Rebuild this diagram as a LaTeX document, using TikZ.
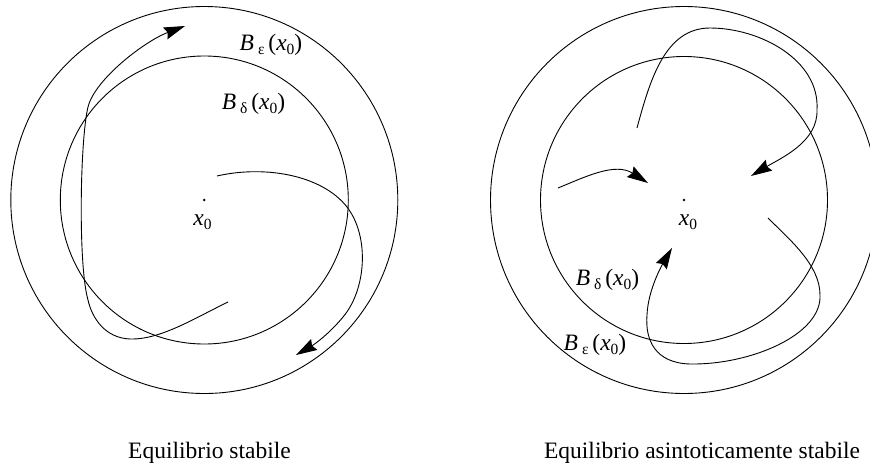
\documentclass[tikz,border=0pt]{standalone}
\usepackage{fontspec}
\setmainfont{Liberation Serif}
\usetikzlibrary{arrows.meta}
\newcommand{\lowsub}[1]{\raisebox{-0.45ex}{\fontsize{15.5}{15.5}\selectfont #1}}
\newcommand{\ballab}[1]{\textit{B}\,\lowsub{#1}\,(\textit{x}\lowsub{0})}
\tikzset{
  ring/.style={line width=0.9pt},
  traj/.style={line width=0.9pt, -{Stealth[length=21pt,width=12.5pt,inset=2.5pt]}},
  lab/.style={font=\fontsize{23.5}{26}\selectfont, inner sep=0pt, anchor=base},
  captext/.style={font=\fontsize{23.5}{26}\selectfont, inner sep=0pt, anchor=base}
}
\begin{document}
\begin{tikzpicture}[x=1pt,y=-1pt]
\useasboundingbox (0,0) rectangle (870,466);
\clip (0,0) rectangle (870,466);
% ---------------- left diagram ----------------
\coordinate (cL) at (204.3,200);
\draw[ring] (cL) circle[radius=193.5];
\draw[ring] (cL) circle[radius=144];
\fill (cL) circle[radius=1.4];
\node[lab] (xL) at (202.5,225) {\textit{x}\lowsub{0}};
\node[lab] (beL) at (271,50) {\ballab{ε}};
\node[lab] (bdL) at (253.5,109) {\ballab{δ}};
% trajectory from inside, leaving to the lower right
\draw[traj] (217,176) .. controls (265,165) and (322,175) .. (347,207)
  .. controls (370,237) and (366,290) .. (343,317)
  .. controls (330,333) and (315,344) .. (296,355);
% trajectory wrapping round the left side
\draw[traj] (228,302) .. controls (195,318) and (160,340) .. (130,339)
  .. controls (105,338) and (92,318) .. (88,300)
  .. controls (78,265) and (80,140) .. (88,107)
  .. controls (95,79) and (145,41) .. (185,26);
\node[captext] (capL) at (209.5,458) {Equilibrio stabile};
% ---------------- right diagram ----------------
\coordinate (cR) at (684,200);
\draw[ring] (cR) circle[radius=193.5];
\draw[ring] (cR) circle[radius=143.5];
\fill (cR) circle[radius=1.4];
\node[lab] (xR) at (688,225) {\textit{x}\lowsub{0}};
\node[lab] (bdR) at (607.5,285) {\ballab{δ}};
\node[lab] (beR) at (595,350) {\ballab{ε}};
\draw[traj] (558,188) .. controls (585,177) and (615,162) .. (648,183);
\draw[traj] (637,128) .. controls (650,80) and (665,28) .. (710,28)
  .. controls (760,28) and (820,60) .. (817,110)
  .. controls (818,142) and (781,158) .. (751,176);
\draw[traj] (768,218) .. controls (790,240) and (820,265) .. (820,295)
  .. controls (822,335) and (750,365) .. (690,364)
  .. controls (655,363) and (645,340) .. (647,315)
  .. controls (648,290) and (662,265) .. (672,248);
\node[captext] (capR) at (702,458) {Equilibrio asintoticamente stabile};
\end{tikzpicture}
\end{document}
